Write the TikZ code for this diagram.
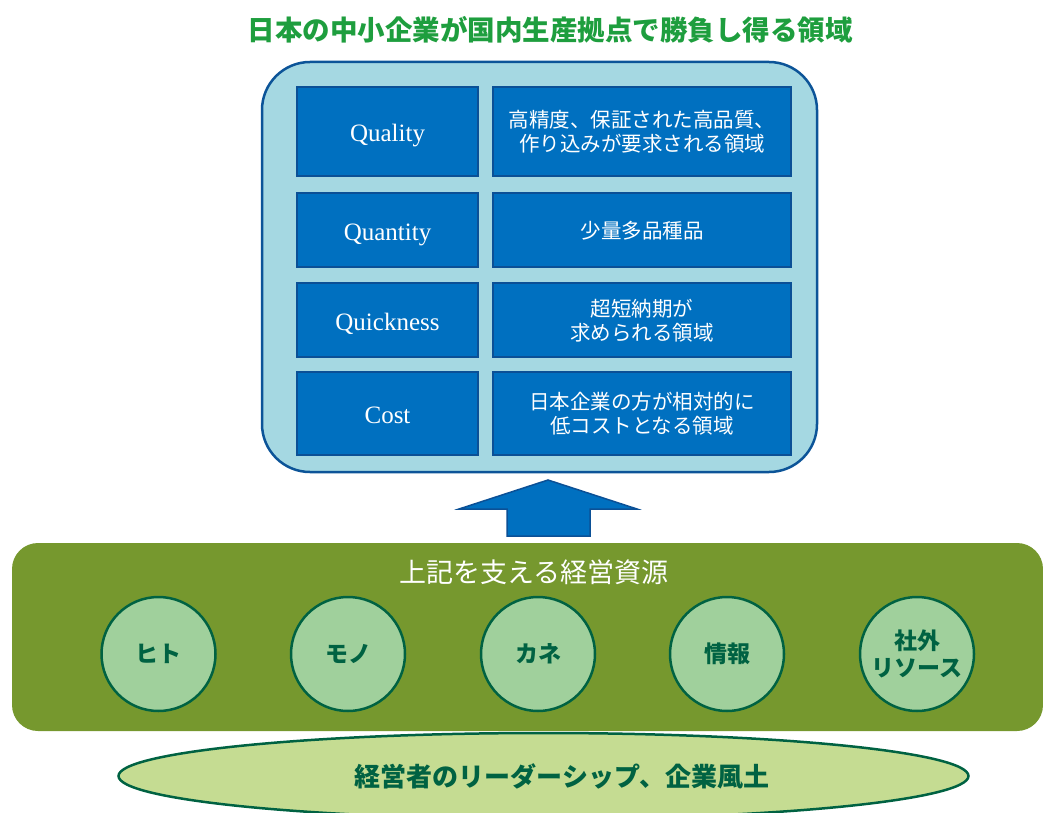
\documentclass[tikz,border=0pt]{standalone}
\usepackage{fontspec}
\setmainfont{Liberation Serif}
\newfontfamily\jp{Noto Sans CJK JP}
\usetikzlibrary{shapes.geometric}
\definecolor{titlegreen}{RGB}{30,158,62}
\definecolor{boxfill}{RGB}{165,216,226}
\definecolor{boxline}{RGB}{12,84,152}
\definecolor{cellfill}{RGB}{0,112,192}
\definecolor{cellline}{RGB}{11,80,150}
\definecolor{bandfill}{RGB}{118,152,46}
\definecolor{circfill}{RGB}{160,208,156}
\definecolor{darkgreen}{RGB}{0,98,66}
\definecolor{ellfill}{RGB}{197,220,146}
\newcommand{\lowtext}[1]{\raisebox{-3pt}[\height][\depth]{\begin{tabular}{@{}c@{}}#1\end{tabular}}}
\tikzset{
  x=1pt,y=-1pt,
  cell/.style={draw=cellline,fill=cellfill,line width=2pt,inner sep=0pt,text=white,align=center},
  lcell/.style={cell,minimum width=181pt,text height=20pt,text depth=0pt,font=\fontsize{25}{28}\selectfont},
  rcell/.style={cell,minimum width=298pt,font=\jp\fontsize{20.5}{22.5}\selectfont},
  res/.style={circle,draw=darkgreen,fill=circfill,line width=2.5pt,minimum size=114pt,inner sep=0pt,
    text=darkgreen,align=center,font=\jp\bfseries\fontsize{23}{27}\selectfont},
}
\begin{document}
\begin{tikzpicture}
\useasboundingbox (0,0) rectangle (1043,813);
% title
\node[text=titlegreen,font=\jp\bfseries\fontsize{27.5}{31}\selectfont] (title) at (550,30) {日本の中小企業が国内生産拠点で勝負し得る領域};
% big box
\draw[draw=boxline,fill=boxfill,line width=2.5pt,rounded corners=48pt] (262,62) rectangle (817,472);
\node (bigbox) at (539.5,267) {};
% cells
\node[lcell,minimum height=89pt] (q1) at (387.5,131.5) {Quality};
\node[rcell,minimum height=89pt] (d1) at (642,131.5) {\lowtext{高精度、保証された高品質、\\作り込みが要求される領域}};
\node[lcell,minimum height=74pt] (q2) at (387.5,230) {Quantity};
\node[rcell,minimum height=74pt] (d2) at (642,230) {\lowtext{少量多品種品}};
\node[lcell,minimum height=74pt] (q3) at (387.5,320) {Quickness};
\node[rcell,minimum height=74pt] (d3) at (642,320) {\lowtext{超短納期が\\求められる領域}};
\node[lcell,minimum height=83pt] (q4) at (387.5,413.5) {Cost};
\node[rcell,minimum height=83pt] (d4) at (642,413.5) {\lowtext{日本企業の方が相対的に\\低コストとなる領域}};
% arrow
\draw[draw=cellline,fill=cellfill,line width=1.5pt,line join=miter]
  (548,480) -- (637,509) -- (590,509) -- (590,536) -- (507,536) -- (507,509) -- (459,509) -- cycle;
% band
\fill[bandfill,rounded corners=26pt] (12,543) rectangle (1043,731);
\node[text=white,font=\jp\fontsize{27}{31}\selectfont] (bandlabel) at (534,572) {上記を支える経営資源};
% circles
\node[res] (hito) at (158.5,654) {ヒト};
\node[res] (mono) at (348,654) {モノ};
\node[res] (kane) at (538,654) {カネ};
\node[res] (joho) at (727,654) {情報};
\node[res] (shagai) at (917,654) {社外\\リソース};
% ellipse
\node[ellipse,draw=darkgreen,fill=ellfill,line width=2.5pt,minimum width=850pt,minimum height=86pt,inner sep=0pt] (base) at (543.5,776) {};
\node[text=darkgreen,font=\jp\bfseries\fontsize{26}{30}\selectfont] (baselabel) at (562,776) {経営者のリーダーシップ、企業風土};
\end{tikzpicture}
\end{document}
